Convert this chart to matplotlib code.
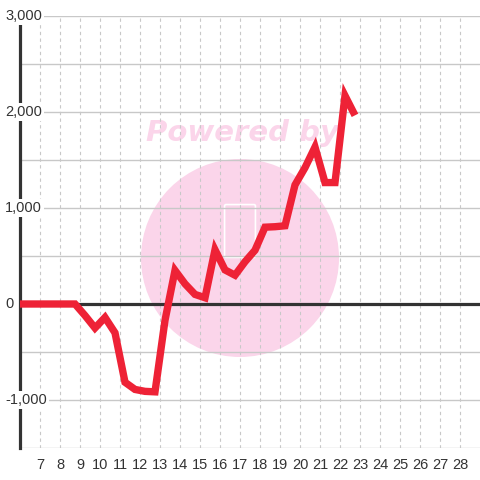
import matplotlib
matplotlib.use("Agg")
import matplotlib.pyplot as plt
import matplotlib.transforms as mtransforms
from matplotlib.patches import Circle, FancyBboxPatch

# data
x_vals = [5.75, 6.25, 6.75, 7.25, 7.75, 8.25, 8.75, 9.25, 9.75, 10.25, 10.75,
          11.25, 11.75, 12.25, 12.75, 13.25, 13.75, 14.25, 14.75, 15.25, 15.75,
          16.25, 16.75, 17.25, 17.75, 18.25, 18.75, 19.25, 19.75, 20.25, 20.75,
          21.25, 21.75, 22.25, 22.75]
y_vals = [0, 0, 0, 0, 0, 0, 0, -120, -250, -140, -300,
          -815, -890, -910, -915, -170, 350, 210, 100, 65, 565,
          355, 300, 440, 560, 800, 805, 815, 1240, 1420, 1635,
          1265, 1265, 2170, 1965]
x_ticks = list(range(7, 29))
y_labels = [3000, 2000, 1000, 0, -1000]
y_grid = [-1500, -1000, -500, 0, 500, 1000, 1500, 2000, 2500, 3000]

plt.rcParams['font.family'] = ['Liberation Sans', 'DejaVu Sans']

fig = plt.figure(figsize=(4.8, 4.8), dpi=100)
fig.patch.set_facecolor('white')

# watermark behind the axes
pink = '#fbd5ea'
fig.patches.append(Circle((240 / 480, 1 - 258 / 480), 99 / 480, transform=fig.transFigure,
                          facecolor=pink, edgecolor='none', zorder=0))
fig.patches.append(FancyBboxPatch((226 / 480, 1 - 256 / 480), 28 / 480, 50 / 480,
                                  boxstyle='round,pad=0.003', transform=fig.transFigure,
                                  facecolor='none', edgecolor='white', lw=1.2, zorder=0))
fig.text(242 / 480, 1 - 133 / 480, "Powered by", ha='center', va='center',
         fontsize=21, fontweight='bold', style='italic', color=pink,
         family='DejaVu Sans', zorder=0)

ax = fig.add_axes([20 / 480, 1 - 448 / 480, 460 / 480, 432 / 480])
ax.set_facecolor('none')
ax.set_zorder(1)
ax.set_xlim(6, 29)
ax.set_ylim(-1500, 3000)

# grid
for g in y_grid:
    ax.axhline(g, color='#c8c8c8', lw=1, zorder=1)
for t in x_ticks:
    ax.axvline(t, color='#c8c8c8', lw=0.8, ls=(0, (3, 3)), zorder=1)
ax.axhline(0, color='#333333', lw=2.3, zorder=2)

for s in ['top', 'right', 'bottom']:
    ax.spines[s].set_visible(False)
ax.spines['left'].set_color('#333333')
ax.spines['left'].set_linewidth(2.3)

ax.plot(x_vals, y_vals, color='#ee2236', lw=5.3, solid_joinstyle='miter',
        solid_capstyle='butt', zorder=3, clip_on=True)

ax.set_yticks([])
ax.set_xticks(x_ticks)
ax.set_xticklabels([str(t) for t in x_ticks])
ax.tick_params(axis='x', length=0, pad=7, labelsize=10.5, labelcolor='#333333')

trans = mtransforms.blended_transform_factory(fig.transFigure, ax.transData)
for v in y_labels:
    ax.text(5 / 480, v, f"{v:,}", transform=trans, ha='left', va='center',
            fontsize=10.5, color='#333333', zorder=10, clip_on=False,
            bbox=dict(facecolor='white', edgecolor='none', pad=1.5))

fig.savefig('out.png', dpi=100)
